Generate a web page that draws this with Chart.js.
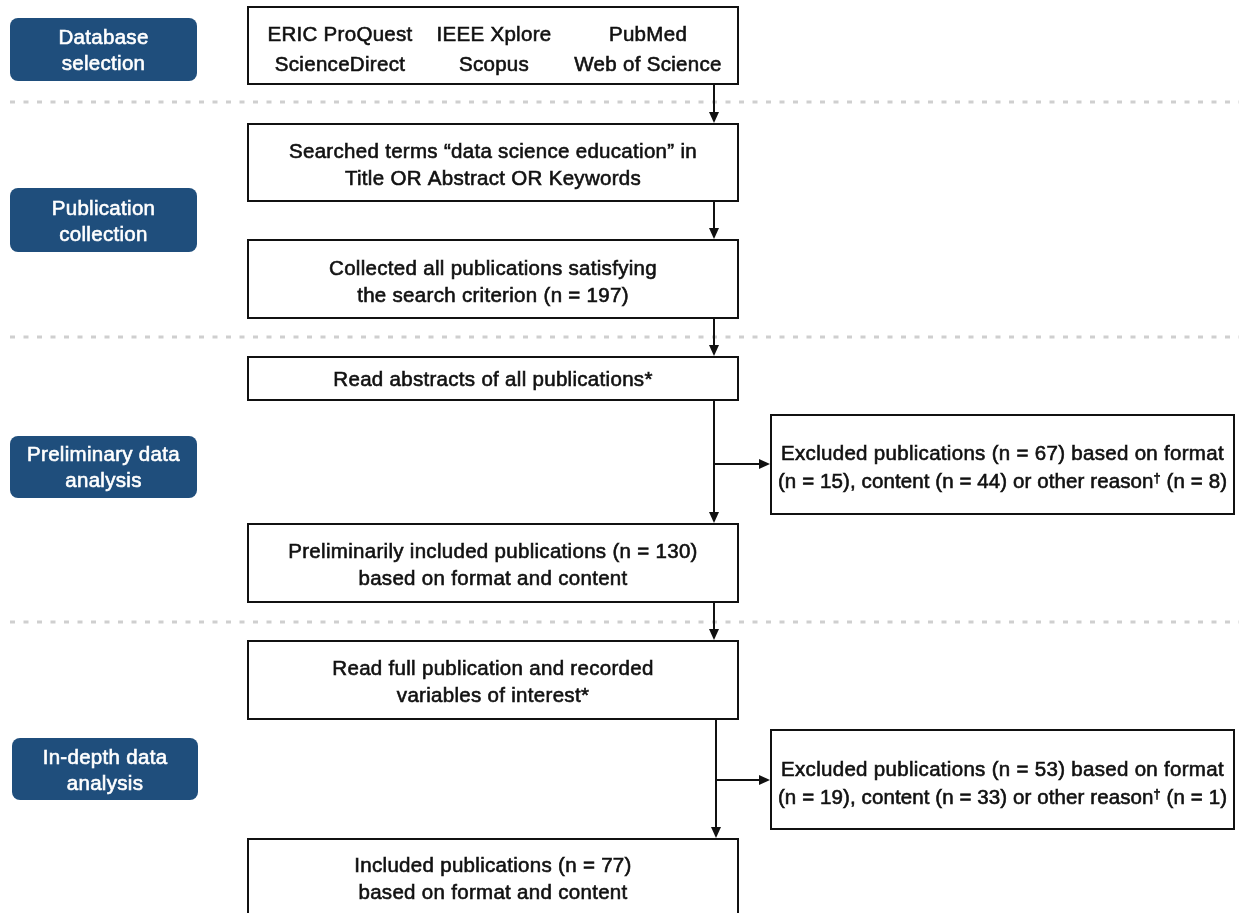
<!DOCTYPE html>
<html>
<head>
<meta charset="utf-8">
<script src="https://cdn.jsdelivr.net/npm/chart.js@4.4.1/dist/chart.umd.min.js"></script>
<style>
  html, body { margin: 0; padding: 0; background: #fff; }
  #wrap { width: 1239px; height: 913px; position: relative; }
</style>
</head>
<body>
<div id="wrap"><canvas id="flow" width="1239" height="913"></canvas></div>
<script>
// Stage labels (left-hand blue tags)
const stageLabels = [
  ['Database', 'selection'],
  ['Publication', 'collection'],
  ['Preliminary data', 'analysis'],
  ['In-depth data', 'analysis']
];

// Databases searched
const databases = ['ERIC ProQuest', 'IEEE Xplore', 'PubMed', 'ScienceDirect', 'Scopus', 'Web of Science'];

// Counts
const collectedN = 197;
const prelimExcluded = [15, 44, 8];   // format, content, other reason
const inDepthExcluded = [19, 33, 1];
const sum = a => a.reduce((s, v) => s + v, 0);
const prelimIncluded = collectedN - sum(prelimExcluded);
const finalIncluded = prelimIncluded - sum(inDepthExcluded);

// Box texts
const boxTexts = [
  null, // database grid, drawn separately
  ['Searched terms \u201cdata science education\u201d in', 'Title OR Abstract OR Keywords'],
  ['Collected all publications satisfying', 'the search criterion (n = ' + collectedN + ')'],
  ['Read abstracts of all publications*'],
  ['Preliminarily included publications (n = ' + prelimIncluded + ')', 'based on format and content'],
  ['Read full publication and recorded', 'variables of interest*'],
  ['Included publications (n = ' + finalIncluded + ')', 'based on format and content']
];
const excludedTexts = [prelimExcluded, inDepthExcluded].map(e => [
  'Excluded publications (n = ' + sum(e) + ') based on format',
  '(n = ' + e[0] + '), content (n = ' + e[1] + ') or other reason\u2020 (n = ' + e[2] + ')'
]);

// Layout (page units): [x0, y0, x1, y1, textMidY]
const layout = {
  tags: [[10, 18, 197, 81, 51], [10, 188, 197, 252, 222], [10, 436, 197, 498, 468], [12, 738, 198, 800, 771]],
  boxes: [[248, 7, 738, 84, 49], [248, 124, 738, 201, 166], [248, 240, 738, 318, 283], [248, 357, 738, 400, 380],
          [248, 524, 738, 602, 566], [248, 641, 738, 719, 683], [248, 839, 738, 930, 880]],
  excluded: [[771, 415, 1234, 514, 468], [771, 730, 1234, 829, 784]],
  dividers: [102, 337, 622],
  trunkX: [714, 714, 714, 714, 714, 716],
  branchY: [464, 780],
  dbCols: [340, 494, 648],
  dbRows: [35, 65]
};

const fontSize = 20.5;
const fontFamily = '"Liberation Sans", Arial, sans-serif';

const flowPlugin = {
  id: 'flow',
  afterDraw(chart) {
    const ctx = chart.ctx;
    const sx = chart.scales.x, sy = chart.scales.y;
    const X = v => sx.getPixelForValue(v);
    const Y = v => sy.getPixelForValue(v);

    let spacing = '0.3px';
    const setFont = size => {
      ctx.font = size + 'px ' + fontFamily;
      ctx.letterSpacing = spacing;
    };
    const piece = (s, x, y, color, size) => {
      setFont(size);
      ctx.fillStyle = color;
      ctx.strokeStyle = color;
      ctx.lineWidth = 0.6;
      ctx.fillText(s, x, y);
      ctx.strokeText(s, x, y);
    };
    // centred text; a dagger is set small and raised
    const text = (s, x, y, color) => {
      const parts = s.split('\u2020');
      if (parts.length === 1) {
        spacing = '0.3px';
        ctx.textAlign = 'center';
        piece(s, x, y, color, fontSize);
        ctx.letterSpacing = '0px';
        return;
      }
      spacing = '0.1px';
      const small = fontSize * 0.62;
      setFont(fontSize);
      const w0 = ctx.measureText(parts[0]).width;
      const w2 = ctx.measureText(parts[1]).width;
      setFont(small);
      const w1 = ctx.measureText('\u2020').width;
      let left = x - (w0 + w1 + w2) / 2;
      ctx.textAlign = 'left';
      piece(parts[0], left, y, color, fontSize);
      piece('\u2020', left + w0, y - 4, color, small);
      piece(parts[1], left + w0 + w1, y, color, fontSize);
      ctx.textAlign = 'center';
      ctx.letterSpacing = '0px';
      spacing = '0.3px';
    };

    ctx.save();
    // dashed separators
    ctx.strokeStyle = '#cfcfcf';
    ctx.lineWidth = 3;
    ctx.setLineDash([5, 8.5]);
    layout.dividers.forEach(y => {
      ctx.beginPath();
      ctx.moveTo(X(10), Y(y));
      ctx.lineTo(X(1239), Y(y));
      ctx.stroke();
    });
    ctx.setLineDash([]);

    // stage tags
    ctx.textAlign = 'center';
    ctx.textBaseline = 'middle';
    layout.tags.forEach((t, i) => {
      ctx.fillStyle = '#1f4e7c';
      ctx.beginPath();
      ctx.roundRect(X(t[0]), Y(t[1]), X(t[2]) - X(t[0]), Y(t[3]) - Y(t[1]), 8);
      ctx.fill();
      const cx = (X(t[0]) + X(t[2])) / 2, cy = Y(t[4]);
      const lines = stageLabels[i];
      lines.forEach((s, k) => text(s, cx, cy + (k - (lines.length - 1) / 2) * 26, '#fff'));
    });

    const drawBox = (b, lines, gap) => {
      ctx.strokeStyle = '#111';
      ctx.lineWidth = 2;
      ctx.strokeRect(X(b[0]), Y(b[1]), X(b[2]) - X(b[0]), Y(b[3]) - Y(b[1]));
      if (!lines) return;
      const cx = (X(b[0]) + X(b[2])) / 2, cy = Y(b[4]);
      lines.forEach((s, k) => text(s, cx, cy + (k - (lines.length - 1) / 2) * gap, '#111'));
    };

    layout.boxes.forEach((b, i) => drawBox(b, boxTexts[i], 27));
    layout.excluded.forEach((b, i) => drawBox(b, excludedTexts[i], 28));

    // database grid
    databases.forEach((d, i) => {
      text(d, X(layout.dbCols[i % 3]), Y(layout.dbRows[Math.floor(i / 3)]), '#111');
    });

    // arrows
    const head = (x, y, dir) => {
      ctx.fillStyle = '#111';
      ctx.beginPath();
      if (dir === 'down') {
        ctx.moveTo(x, y); ctx.lineTo(x - 5, y - 11); ctx.lineTo(x + 5, y - 11);
      } else {
        ctx.moveTo(x, y); ctx.lineTo(x - 11, y - 5); ctx.lineTo(x - 11, y + 5);
      }
      ctx.closePath();
      ctx.fill();
    };
    const line = (x0, y0, x1, y1) => {
      ctx.strokeStyle = '#111';
      ctx.lineWidth = 2;
      ctx.beginPath();
      ctx.moveTo(X(x0), Y(y0));
      ctx.lineTo(X(x1), Y(y1));
      ctx.stroke();
    };
    const B = layout.boxes;
    for (let i = 0; i < B.length - 1; i++) {
      const x = layout.trunkX[i];
      line(x, B[i][3], x, B[i + 1][1] - 4);
      head(X(x), Y(B[i + 1][1] - 1), 'down');
    }
    // side branches to excluded boxes
    [[3, 0], [5, 1]].forEach(([bi, ei], k) => {
      const x = layout.trunkX[bi];
      const y = layout.branchY[k];
      line(x, y, layout.excluded[ei][0] - 4, y);
      head(X(layout.excluded[ei][0] - 1), Y(y), 'right');
    });
    ctx.restore();
  }
};

new Chart(document.getElementById('flow'), {
  type: 'scatter',
  data: { datasets: [{ data: [] }] },
  options: {
    responsive: false,
    animation: false,
    events: [],
    layout: { padding: 0 },
    plugins: { legend: { display: false }, tooltip: { enabled: false } },
    scales: {
      x: { type: 'linear', min: 0, max: 1239, display: false },
      y: { type: 'linear', min: 0, max: 913, reverse: true, display: false }
    }
  },
  plugins: [flowPlugin]
});
</script>
</body>
</html>
